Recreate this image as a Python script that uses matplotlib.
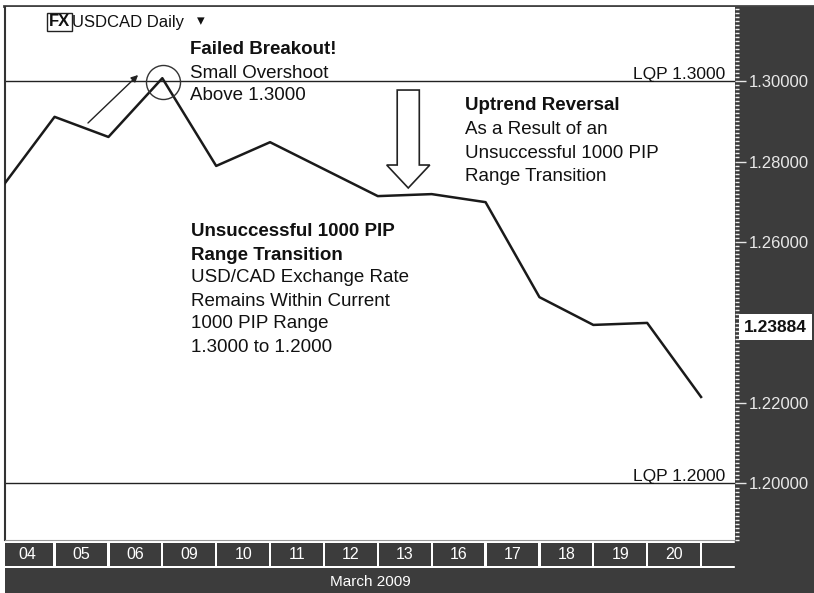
import matplotlib.pyplot as plt
import matplotlib.transforms as mtransforms
from matplotlib.patches import FancyArrow, Rectangle
from matplotlib.ticker import MultipleLocator

plt.rcParams['font.family'] = ['Liberation Sans', 'DejaVu Sans']

# daily closes, first value is the 03 close that sits just off the left edge
days = ["04", "05", "06", "09", "10", "11", "12", "13", "16", "17", "18", "19", "20"]
day_pos = list(range(-1, 13))
closes = [1.2732, 1.2911, 1.2861, 1.3007, 1.2789, 1.2848, 1.2781, 1.2714,
          1.2719, 1.2699, 1.2463, 1.2394, 1.2399, 1.2215]
price_ticks = [1.20, 1.22, 1.26, 1.28, 1.30]
lqp_levels = [1.30, 1.20]
last_price = 1.23884
month = "March 2009"

W, H = 814, 593
DARK = '#3c3c3c'
INK = '#111111'


def fpx(x, y):
    """pixel position -> figure fraction"""
    return x / W, 1 - y / H


fig = plt.figure(figsize=(W / 100, H / 100), dpi=100)

# dark price panel on the right and frame line on top (behind the axes)
fig.patches.append(Rectangle(fpx(735, H), 79 / W, (H - 7) / H,
                             transform=fig.transFigure, color=DARK, zorder=-1))
fig.lines.append(plt.Line2D([4 / W, 1], [1 - 6 / H] * 2, transform=fig.transFigure,
                            color='#444444', lw=2, zorder=-1))

ax = fig.add_axes([5 / W, 1 - 540 / H, 730 / W, 533 / H])
ax.set_xlim(-0.92, 12.63)
ax.set_ylim(1.18596, 1.31839)

ax.plot(day_pos, closes, color='#1a1a1a', lw=1.8, zorder=3)

for level in lqp_levels:
    ax.axhline(level, color='#222222', lw=1, zorder=2)
    ax.annotate(f"LQP {level:.4f}", xy=(0.986, level),
                xycoords=mtransforms.blended_transform_factory(ax.transAxes, ax.transData),
                xytext=(0, 2), textcoords='offset pixels', ha='right', va='baseline',
                fontsize=12.5, color=INK)

ax.yaxis.tick_right()
ax.set_yticks(price_ticks)
ax.set_yticklabels([f"{t:.5f}" for t in price_ticks])
ax.yaxis.set_minor_locator(MultipleLocator(0.001))
ax.tick_params(axis='y', which='major', colors='#e8e8e8', length=8, width=1,
               labelsize=12, pad=2)
ax.tick_params(axis='y', which='minor', colors='#f0f0f0', length=3, width=1)
ax.set_xticks([])
for side in ['top', 'right']:
    ax.spines[side].set_visible(False)
ax.spines['left'].set_color('#333333')
ax.spines['left'].set_linewidth(1.5)
ax.spines['bottom'].set_color('#999999')

# last price box
ax.text(1.012, last_price, f"{last_price:.5f}",
        transform=mtransforms.blended_transform_factory(ax.transAxes, ax.transData),
        ha='left', va='center', fontsize=12.5, fontweight='bold', color=INK, zorder=6,
        bbox=dict(boxstyle='square,pad=0.3', fc='white', ec='none'), clip_on=False)

# failed breakout marks
ax.plot([2.01], [1.29975], marker='o', ms=24.5, mfc='none', mec='#333333', mew=1, zorder=4)
ax.annotate("", xy=(1.55, 1.30149), xytext=(0.62, 1.28957),
            arrowprops=dict(arrowstyle='-|>', color='#222222', lw=1,
                            mutation_scale=10, shrinkA=0, shrinkB=0))

# hollow down arrow
ax.add_patch(FancyArrow(6.565, 1.29776, 0, -0.02434, width=0.41, head_width=0.80,
                        head_length=0.00571, length_includes_head=True,
                        fc='white', ec='#222222', lw=1.2, zorder=4))

# title
fig.text(*fpx(49, 22), "FX", fontsize=12, fontweight='bold', color=INK, va='center',
         bbox=dict(boxstyle='square,pad=0.1', fc='none', ec='#222222', lw=1))
fig.text(*fpx(72, 22), "USDCAD Daily", fontsize=12, color=INK, va='center')
fig.text(*fpx(197, 21), "\u25be", fontsize=11, color=INK, va='center',
         family=['DejaVu Sans'])


def note(x, y0, lines, n_bold, step=23):
    for i, line in enumerate(lines):
        fig.text(*fpx(x, y0 + i * step), line, fontsize=13.5, color=INK, va='center',
                 fontweight='bold' if i < n_bold else 'normal')


note(190, 50, ["Failed Breakout!", "Small Overshoot", "Above 1.3000"], 1)
note(465, 106, ["Uptrend Reversal", "As a Result of an",
                "Unsuccessful 1000 PIP", "Range Transition"], 1, step=23.5)
note(191, 232, ["Unsuccessful 1000 PIP", "Range Transition", "USD/CAD Exchange Rate",
                "Remains Within Current", "1000 PIP Range", "1.3000 to 1.2000"], 2)

# date row
axd = fig.add_axes([5 / W, 1 - 566 / H, 730 / W, 23 / H])
axd.set_xlim(ax.get_xlim())
axd.set_ylim(0, 1)
cells = [k - 0.5 for k in range(len(days) + 1)]
axd.bar(cells, [1] * len(cells), width=0.96, color=DARK)
for k, d in enumerate(days):
    axd.text(k - 0.5, 0.5, d, ha='center', va='center', color='white', fontsize=11.5)
axd.axis('off')

# month row
axm = fig.add_axes([5 / W, 0, 730 / W, 25 / H])
axm.set_facecolor(DARK)
axm.set_xticks([])
axm.set_yticks([])
for s in axm.spines.values():
    s.set_visible(False)
axm.text(0.5, 0.45, month, ha='center', va='center', color='white', fontsize=11,
         transform=axm.transAxes)

fig.savefig('out.png', dpi=100)
